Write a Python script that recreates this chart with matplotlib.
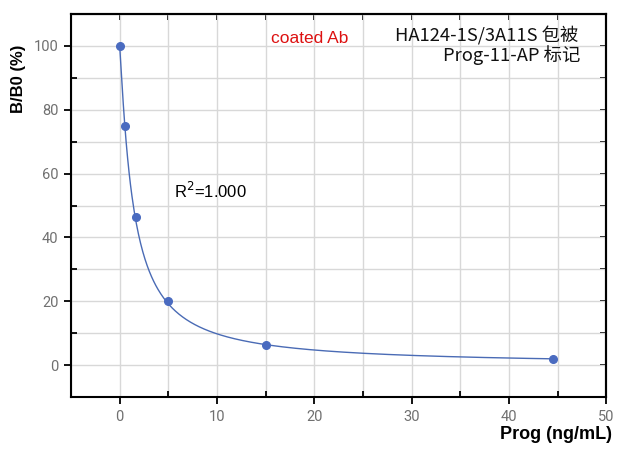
import matplotlib
matplotlib.use("Agg")
import matplotlib.pyplot as plt
from matplotlib.ticker import MultipleLocator
import numpy as np

# standard curve points
conc = [0.0, 0.5, 1.67, 5.0, 15.0, 44.5]
bb0 = [100.0, 75.0, 46.5, 20.0, 6.4, 1.9]
r2_text = "R$^2$=1.000"

# logistic fit (top 100, bottom 0) via logit linearisation
xs = np.array(conc[1:])
ys = np.array(bb0[1:])
slope, icpt = np.polyfit(np.log(xs), np.log(100.0 / ys - 1.0), 1)
xfit = np.linspace(0, max(conc), 600)
yfit = 100.0 / (1.0 + np.exp(icpt) * np.power(xfit, slope))

fig = plt.figure(figsize=(6.23, 4.59), dpi=100)
ax = fig.add_axes([0.114, 0.135, 0.859, 0.8345])

ax.plot(xfit, yfit, color="#4a6bb5", lw=1.0, zorder=3)
ax.plot(conc, bb0, "o", color="#4a6bc0", ms=5.5, zorder=4)

ax.set_xlim(-5, 50)
ax.set_ylim(-10, 110)
ax.xaxis.set_major_locator(MultipleLocator(10))
ax.xaxis.set_minor_locator(MultipleLocator(5))
ax.yaxis.set_major_locator(MultipleLocator(20))
ax.yaxis.set_minor_locator(MultipleLocator(10))
ax.grid(True, which="both", color="#d8d8d8", lw=1.0, zorder=0)

for s in ax.spines.values():
    s.set_linewidth(1.5)
    s.set_color("black")
ax.tick_params(which="major", direction="out", length=5, width=1.3,
               labelsize=10.5, labelcolor="#707070", pad=4)
ax.tick_params(which="minor", direction="in", length=4, width=1.3)
for t in ax.get_xticklabels() + ax.get_yticklabels():
    t.set_family("Roboto")

# inward ticks on top and right, no labels
top = ax.secondary_xaxis("top")
top.xaxis.set_major_locator(MultipleLocator(5))
top.tick_params(direction="in", length=4, width=1.3, labeltop=False)
right = ax.secondary_yaxis("right")
right.yaxis.set_major_locator(MultipleLocator(10))
right.tick_params(direction="in", length=4, width=1.3, labelright=False)
for sec in (top, right):
    for s in sec.spines.values():
        s.set_linewidth(1.5)

fig.text(0.982, 0.035, "Prog (ng/mL)", ha="right", va="bottom",
         fontsize=13, fontweight="bold", family="Liberation Sans")
fig.text(0.03, 0.829, "B/B0 (%)", ha="center", va="center", rotation=90,
         fontsize=12, fontweight="bold", family="Liberation Sans")

ax.text(19.5, 102.2, "coated Ab", color="#dd1111", fontsize=12.5,
        ha="center", va="center", family="Liberation Sans")
cjk = ["Noto Sans CJK SC", "DejaVu Sans"]
fig.text(0.928, 0.921, "HA124-1S/3A11S 包被", ha="right", va="center",
         fontsize=13.2, family=cjk, color="#111111")
fig.text(0.931, 0.880, "Prog-11-AP 标记", ha="right", va="center",
         fontsize=13.2, family=cjk, color="#111111")
ax.text(5.6, 54.5, r2_text, fontsize=12, ha="left", va="center",
        family="Liberation Sans")

fig.savefig("out.png", dpi=100)
